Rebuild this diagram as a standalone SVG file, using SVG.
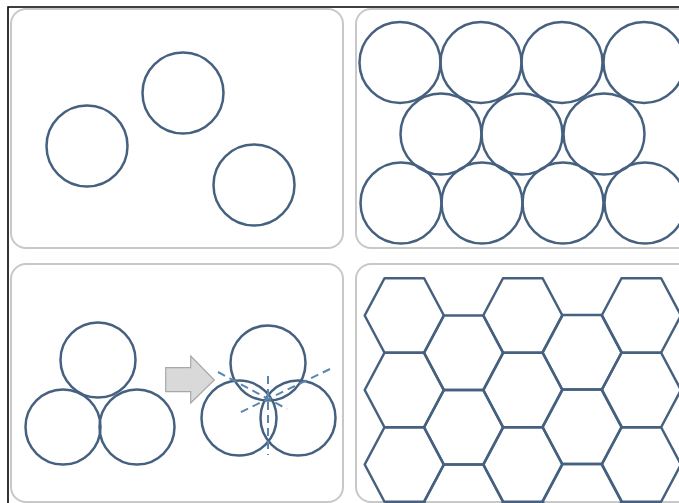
<svg xmlns="http://www.w3.org/2000/svg" width="679" height="503" viewBox="0 0 679 503">
<defs>
<style>
.panel{fill:#ffffff;stroke:#c8c8c8;stroke-width:2}
.c{fill:none;stroke:#46617f;stroke-width:2.5}
.hx{fill:none;stroke:#46617f;stroke-width:2.5;stroke-linejoin:round}
.dash{fill:none;stroke:#5b87ae;stroke-width:2;stroke-dasharray:8 5}
.arrow{fill:#d9d9d9;stroke:#a8a8a8;stroke-width:1.2}
</style>
<polygon id="hex" points="-39.6,0 -19.8,-37.25 19.8,-37.25 39.6,0 19.8,37.25 -19.8,37.25"/>
</defs>
<rect width="679" height="503" fill="#ffffff"/>
<polyline points="8,503 8,7 679,7" fill="none" stroke="#000000" stroke-width="1.6"/>

<g id="panel1">
<rect class="panel" x="11" y="9" width="332" height="239" rx="15"/>
<circle class="c" cx="87" cy="146" r="40.5"/>
<circle class="c" cx="183" cy="93" r="40.5"/>
<circle class="c" cx="254" cy="185" r="40.5"/>
</g>

<g id="panel2">
<rect class="panel" x="356" y="9" width="340" height="239" rx="15"/>
<circle class="c" cx="400" cy="62.5" r="40.5"/>
<circle class="c" cx="481" cy="62.5" r="40.5"/>
<circle class="c" cx="562" cy="62.5" r="40.5"/>
<circle class="c" cx="644" cy="62.5" r="40.5"/>
<circle class="c" cx="441" cy="134" r="40.5"/>
<circle class="c" cx="522" cy="134" r="40.5"/>
<circle class="c" cx="604" cy="134" r="40.5"/>
<circle class="c" cx="401" cy="203" r="40.5"/>
<circle class="c" cx="482" cy="203" r="40.5"/>
<circle class="c" cx="563" cy="203" r="40.5"/>
<circle class="c" cx="645" cy="203" r="40.5"/>
</g>

<g id="panel3">
<rect class="panel" x="11" y="264" width="332" height="238" rx="15"/>
<circle class="c" cx="98" cy="360" r="37.5"/>
<circle class="c" cx="63" cy="427" r="37.5"/>
<circle class="c" cx="137" cy="427" r="37.5"/>
<polygon class="arrow" points="165.7,367.7 190.7,367.7 190.7,356 214.3,380 190.7,403 190.7,391.7 165.7,391.7"/>
<circle class="c" cx="268" cy="363" r="37.5"/>
<circle class="c" cx="239" cy="418" r="37.5"/>
<circle class="c" cx="298" cy="418" r="37.5"/>
<line class="dash" x1="268" y1="376" x2="268" y2="455"/>
<line class="dash" x1="218" y1="372" x2="287" y2="409"/>
<line class="dash" x1="330" y1="369" x2="239" y2="413"/>
</g>

<g id="panel4">
<rect class="panel" x="356" y="264" width="340" height="238" rx="15"/>
<use href="#hex" class="hx" x="404.3" y="315.5"/>
<use href="#hex" class="hx" x="404.3" y="390"/>
<use href="#hex" class="hx" x="404.3" y="464.5"/>
<use href="#hex" class="hx" x="463.6" y="352.8"/>
<use href="#hex" class="hx" x="463.6" y="427.3"/>
<use href="#hex" class="hx" x="463.6" y="501.8"/>
<use href="#hex" class="hx" x="522.8" y="315.5"/>
<use href="#hex" class="hx" x="522.8" y="390"/>
<use href="#hex" class="hx" x="522.8" y="464.5"/>
<use href="#hex" class="hx" x="582.1" y="352.3"/>
<use href="#hex" class="hx" x="582.1" y="426.8"/>
<use href="#hex" class="hx" x="582.1" y="501.3"/>
<use href="#hex" class="hx" x="641.3" y="315.5"/>
<use href="#hex" class="hx" x="641.3" y="390"/>
<use href="#hex" class="hx" x="641.3" y="464.5"/>
</g>
</svg>
